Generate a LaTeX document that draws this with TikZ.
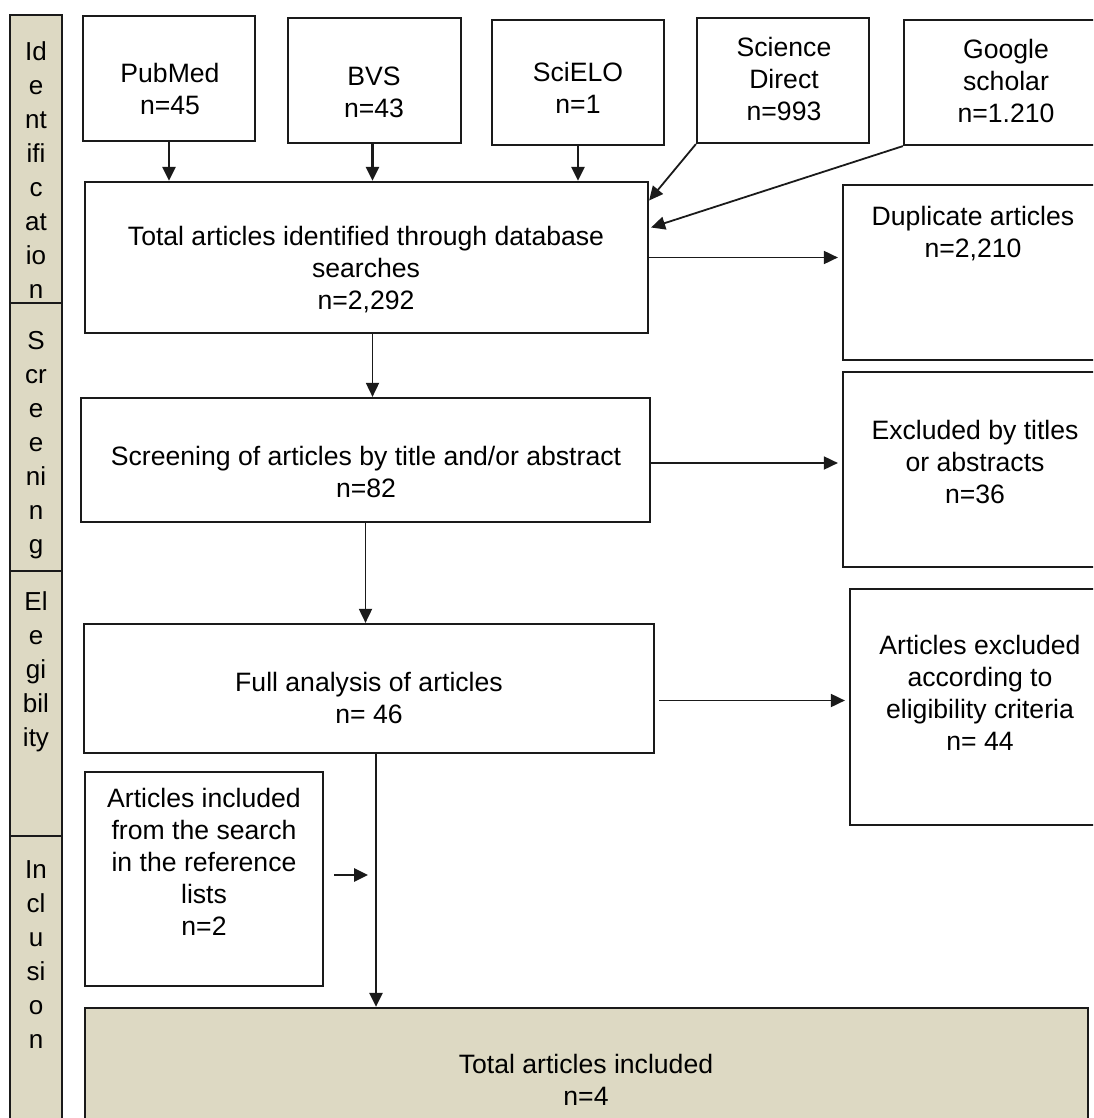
\documentclass[tikz,border=0pt]{standalone}
\usepackage{fontspec}
\setmainfont{Liberation Sans}
\usetikzlibrary{arrows.meta,positioning,calc}
\definecolor{Tan}{HTML}{DDD9C3}
\definecolor{Ink}{HTML}{1A1A1A}
\tikzset{
 box/.style={draw=Ink, line width=1.1pt, fill=white, inner sep=0pt},
 tanbox/.style={box, fill=Tan},
 txt/.style={align=center, inner sep=0pt, font=\fontsize{13.3}{16}\selectfont},
 stagetxt/.style={align=center, inner sep=0pt, font=\fontsize{13}{17}\selectfont},
 arrow/.style={-{Triangle[length=7pt,width=6.5pt]}, line width=0.9pt, draw=Ink},
 thickarrow/.style={arrow, line width=1.3pt}
}

\begin{document}
\begin{tikzpicture}[x=0.5pt,y=-0.5pt]
\useasboundingbox (0,0) rectangle (1093,1118);
\clip (0,0) rectangle (1093,1118);
% stage column
\node[tanbox,minimum width=26pt,minimum height=144pt] (ident) at (36,159) {};
\node[tanbox,minimum width=26pt,minimum height=134pt] (screenstage) at (36,437) {};
\node[tanbox,minimum width=26pt,minimum height=132.5pt] (elig) at (36,703.5) {};
\node[tanbox,minimum width=26pt,minimum height=144pt] (incl) at (36,980) {};
\node[stagetxt] (identtxt) at (36,170) {Id\\e\\nt\\ifi\\c\\at\\io\\n};
\node[stagetxt] (screenstagetxt) at (36,445) {S\\cr\\e\\e\\ni\\n\\g};
\node[stagetxt] (eligtxt) at (36,672) {El\\e\\gi\\bil\\ity};
\node[stagetxt] (incltxt) at (36,955) {In\\cl\\u\\si\\o\\n};
% sources
\node[box,minimum width=86pt,minimum height=62.5pt] (pubmed) at (169,78.5) {};
\node[box,minimum width=86.5pt,minimum height=62.5pt] (bvs) at (374.5,80.5) {};
\node[box,minimum width=86pt,minimum height=62.5pt] (scielo) at (578,82.5) {};
\node[box,minimum width=86pt,minimum height=62.5pt] (sd) at (783,80.5) {};
\node[box,minimum width=98pt,minimum height=62.5pt] (google) at (1002,82.5) {};
\node[txt] (pubmedtxt) at (170,89) {PubMed\\n=45};
\node[txt] (bvstxt) at (374,92) {BVS\\n=43};
\node[txt] (scielotxt) at (578,88) {SciELO\\n=1};
\node[txt] (sdtxt) at (784,79) {Science\\Direct\\n=993};
\node[txt] (googletxt) at (1006,81) {Google\\scholar\\n=1.210};
% main flow
\node[box,minimum width=281.5pt,minimum height=75.5pt] (total) at (366.5,257.5) {};
\node[box,minimum width=128.5pt,minimum height=87.5pt] (dup) at (971.5,272.5) {};
\node[box,minimum width=284.5pt,minimum height=62pt] (screen) at (365.5,460) {};
\node[box,minimum width=128.5pt,minimum height=97.5pt] (excl) at (971.5,469.5) {};
\node[box,minimum width=285pt,minimum height=64.5pt] (full) at (369,688.5) {};
\node[box,minimum width=125pt,minimum height=118pt] (crit) at (975,707) {};
\node[box,minimum width=119pt,minimum height=107pt] (ref) at (204,879) {};
\node[tanbox,minimum width=501.5pt,minimum height=61pt] (final) at (586.5,1069) {};
\node[txt] (totaltxt) at (366,270) {Total articles identified through database\\searches\\n=2,292};
\node[txt] (duptxt) at (973,234) {Duplicate articles\\n=2,210};
\node[txt] (screentxt) at (366,472) {Screening of articles by title and/or abstract\\n=82};
\node[txt] (excltxt) at (975,462) {Excluded by titles\\or abstracts\\n=36};
\node[txt] (fulltxt) at (369,698) {Full analysis of articles\\n= 46};
\node[txt] (crittxt) at (980,693) {Articles excluded\\according to\\eligibility criteria\\n= 44};
\node[txt] (reftxt) at (204,862) {Articles included\\from the search\\in the reference\\lists\\n=2};
\node[txt] (finaltxt) at (586,1080) {Total articles included\\n=4};
\coordinate (join) at (376,875);
% connectors
\draw[thickarrow] (pubmed.south) -- (pubmed.south |- total.north);
\draw[thickarrow] ($(bvs.south)+(-2,0)$) -- ($(bvs.south |- total.north)+(-2,0)$);
\draw[thickarrow] (scielo.south) -- (scielo.south |- total.north);
\draw[arrow] (sd.south west) -- ($(total.east)+(0,-57)$);
\draw[arrow] (google.south west) -- ($(total.east)+(2,-30)$);
\draw[arrow] (total.east) -- ($(total.east -| dup.west)+(-4,0)$);
\draw[arrow] ($(total.south)+(6,0)$) -- ($(total.south |- screen.north)+(6,0)$);
\draw[arrow] ($(screen.east)+(0,3)$) -- ($(screen.east -| excl.west)+(-4,3)$);
\draw[arrow] (screen.south) -- (screen.south |- full.north);
\draw[arrow] ($(full.east)+(4,12)$) -- ($(full.east -| crit.west)+(-4,12)$);
\draw[thickarrow] ($(full.south)+(7,0)$) -- (join |- final.north);
\draw[thickarrow] ($(ref.east)+(10,-4)$) -- ($(join)+(-8,0)$);
\end{tikzpicture}
\end{document}
